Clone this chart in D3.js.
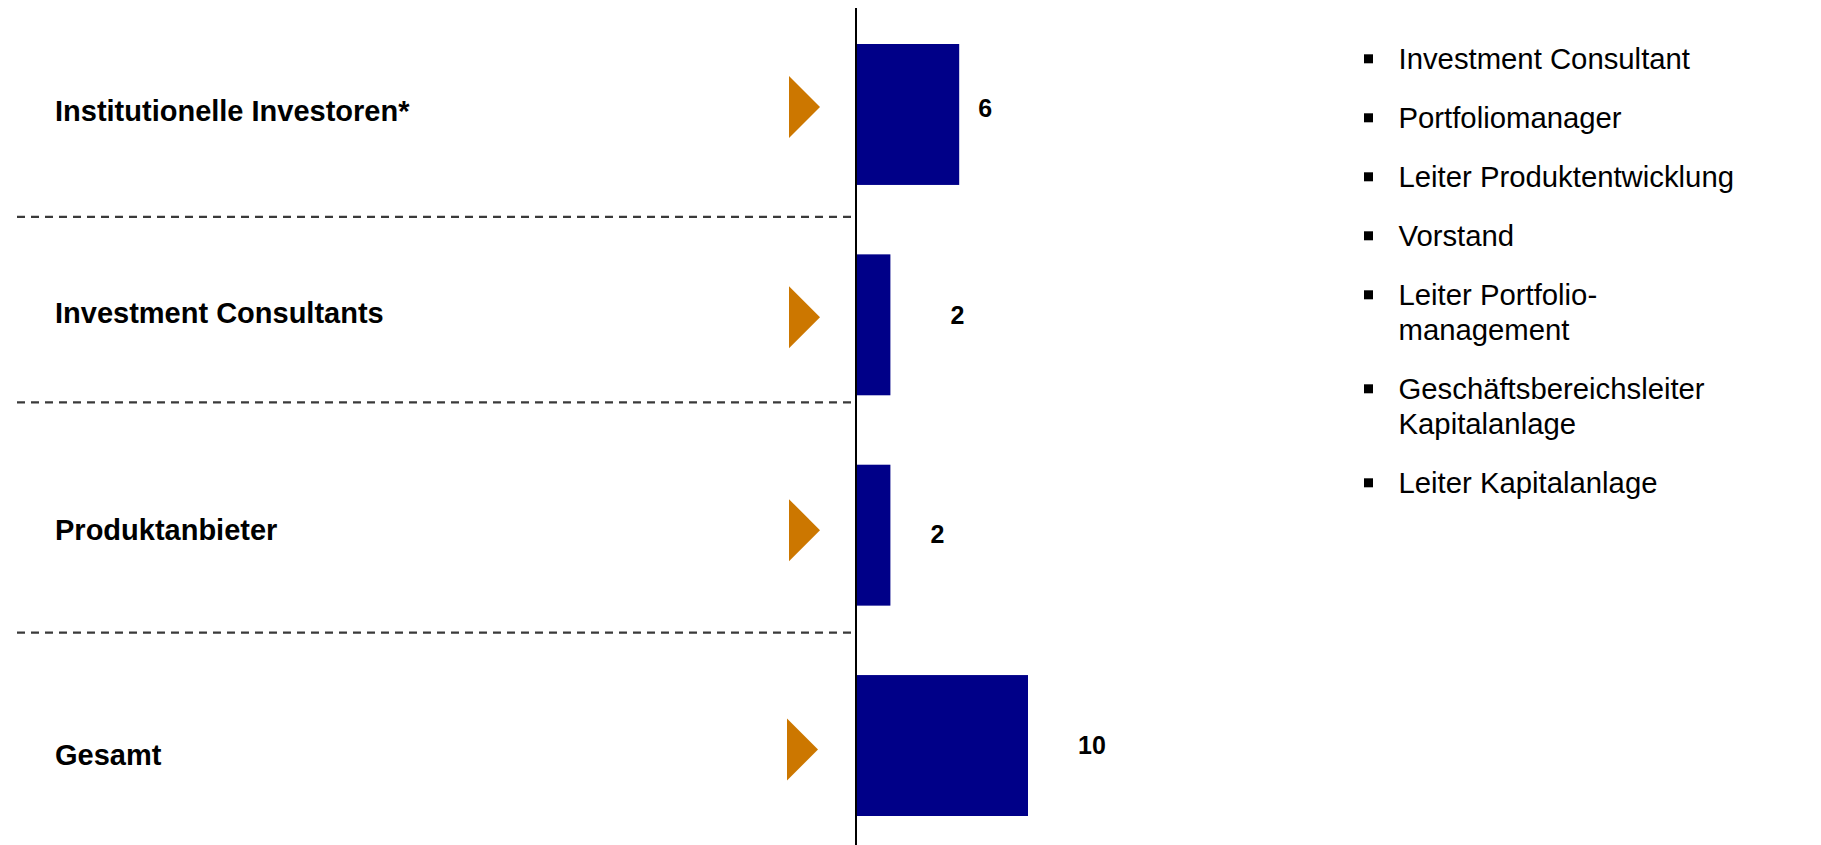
<!DOCTYPE html>
<html lang="de">
<head>
<meta charset="utf-8">
<title>Interviewpartner nach Gruppe</title>
<script src="https://cdn.jsdelivr.net/npm/d3@7/dist/d3.min.js"></script>
<style>
  html, body { margin: 0; padding: 0; background: #ffffff; }
  svg { display: block; font-family: "Liberation Sans", Arial, Helvetica, sans-serif; }
</style>
</head>
<body>
<svg id="chart" width="1821" height="845"></svg>
<script>
// Interview groups and number of interviews per group
const categories = [
  "Institutionelle Investoren*",
  "Investment Consultants",
  "Produktanbieter",
  "Gesamt"
];
const counts = [6, 2, 2, 10];

// Functions of the interviewees (one entry per bullet, one string per line)
const roles = [
  ["Investment Consultant"],
  ["Portfoliomanager"],
  ["Leiter Produktentwicklung"],
  ["Vorstand"],
  ["Leiter Portfolio-", "management"],
  ["Geschäftsbereichsleiter", "Kapitalanlage"],
  ["Leiter Kapitalanlage"]
];

// Hand-placed annotation offsets per row (px)
const labelDy     = [6.5, -2, 5, 19];     // category label baseline vs. row centre
const markerDy    = [-7.5, -7.5, -5, 4];  // arrow tip vs. row centre
const valueGap    = [26, 67, 47, 64];     // value label centre after bar end
const valueDy     = [3, -1, 7.5, 8.5];    // value label baseline vs. row centre
const dividerGap  = [32, 7, 27];          // dashed divider below each bar

const W = 1821, H = 845;
const axisX = 856;
const barColor = "#000088";
const arrowColor = "#CC7700";

const svg = d3.select("#chart");
svg.append("rect").attr("width", W).attr("height", H).attr("fill", "#fff");

const x = d3.scaleLinear().domain([0, 10]).range([axisX, axisX + 172]);
const y = d3.scaleBand().domain(categories).range([44, 816]).paddingInner(0.33).paddingOuter(0);

const rows = categories.map((c, i) => ({ cat: c, value: counts[i], i }));

// dashed dividers between the groups
svg.append("g").selectAll("line")
  .data(rows.slice(0, -1))
  .join("line")
  .attr("x1", 17)
  .attr("x2", axisX - 2)
  .attr("y1", d => y(d.cat) + y.bandwidth() + dividerGap[d.i])
  .attr("y2", d => y(d.cat) + y.bandwidth() + dividerGap[d.i])
  .attr("stroke", "#3a3a3a")
  .attr("stroke-width", 2.2)
  .attr("stroke-dasharray", "8 6");

// bars
svg.append("g").selectAll("rect")
  .data(rows)
  .join("rect")
  .attr("x", x(0))
  .attr("y", d => y(d.cat))
  .attr("width", d => x(d.value) - x(0))
  .attr("height", y.bandwidth())
  .attr("fill", barColor);

// vertical axis line
svg.append("line")
  .attr("x1", axisX).attr("x2", axisX)
  .attr("y1", 8).attr("y2", H)
  .attr("stroke", "#000").attr("stroke-width", 2);

// category labels
svg.append("g").selectAll("text")
  .data(rows)
  .join("text")
  .attr("x", 55)
  .attr("y", d => y(d.cat) + y.bandwidth() / 2 + labelDy[d.i])
  .attr("font-size", 29)
  .attr("font-weight", "bold")
  .attr("fill", "#000")
  .text(d => d.cat);

// orange arrow markers
svg.append("g").selectAll("path")
  .data(rows)
  .join("path")
  .attr("d", d => {
    const cy = y(d.cat) + y.bandwidth() / 2 + markerDy[d.i];
    const tip = axisX - 36 - (d.i === 3 ? 2 : 0);
    return `M${tip - 31},${cy - 31}L${tip},${cy}L${tip - 31},${cy + 31}Z`;
  })
  .attr("fill", arrowColor);

// value labels
svg.append("g").selectAll("text")
  .data(rows)
  .join("text")
  .attr("x", d => x(d.value) + valueGap[d.i])
  .attr("y", d => y(d.cat) + y.bandwidth() / 2 + valueDy[d.i])
  .attr("text-anchor", "middle")
  .attr("font-size", 25)
  .attr("font-weight", "bold")
  .attr("fill", "#000")
  .text(d => d.value);

// bullet list of interviewee functions
const listTop = 69.3, itemGap = 59, lineH = 35;
let baseline = listTop;
const items = roles.map(lines => {
  const item = { lines, y: baseline };
  baseline += (lines.length - 1) * lineH + itemGap;
  return item;
});

const list = svg.append("g").selectAll("g")
  .data(items)
  .join("g");

list.append("rect")
  .attr("x", 1364)
  .attr("y", d => d.y - 15)
  .attr("width", 9)
  .attr("height", 9)
  .attr("fill", "#000");

list.append("text")
  .attr("font-size", 29.3)
  .attr("fill", "#000")
  .selectAll("tspan")
  .data(d => d.lines.map((t, k) => ({ t, y: d.y + k * lineH })))
  .join("tspan")
  .attr("x", 1398.5)
  .attr("y", d => d.y)
  .text(d => d.t);
</script>
</body>
</html>
